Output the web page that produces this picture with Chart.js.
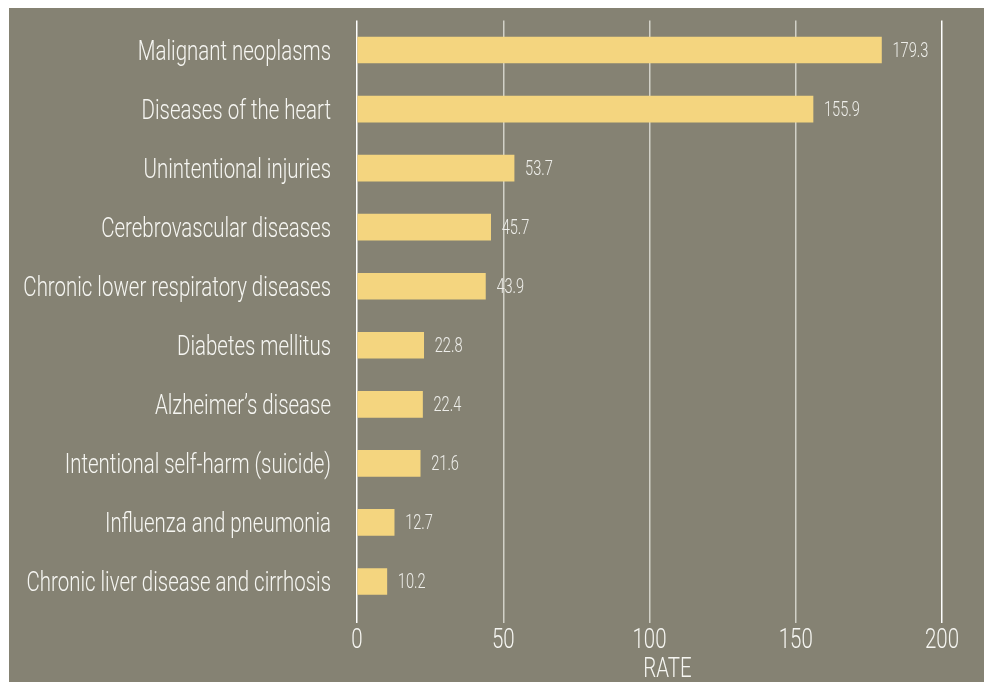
<!DOCTYPE html>
<html>
<head>
<meta charset="utf-8">
<script src="https://cdn.jsdelivr.net/npm/chart.js@4"></script>
<style>
    html, body { margin: 0; padding: 0; background: #ffffff; }
    #wrap { position: absolute; left: 9px; top: 8px; width: 975px; height: 674px; background: #858273; }
</style>
</head>
<body>
<div id="wrap"><canvas id="rateChart" width="975" height="674"></canvas></div>
<script>
const causes = [
    'Malignant neoplasms',
    'Diseases of the heart',
    'Unintentional injuries',
    'Cerebrovascular diseases',
    'Chronic lower respiratory diseases',
    'Diabetes mellitus',
    'Alzheimer\u2019s disease',
    'Intentional self-harm (suicide)',
    'Influenza and pneumonia',
    'Chronic liver disease and cirrhosis'
];
const rates = [179.3, 155.9, 53.7, 45.7, 43.9, 22.8, 22.4, 21.6, 12.7, 10.2];
const rateTicks = [0, 50, 100, 150, 200];
const axisTitle = 'RATE';

const FONT = 'Roboto, "Liberation Sans", sans-serif';
const SQUASH = 0.73; // no condensed face installed, so narrow the text by hand
const TEXT = '#f6f6f2';

function squashText(ctx, text, x, y, align, size) {
    ctx.save();
    ctx.font = '300 ' + size + 'px ' + FONT;
    ctx.textAlign = align;
    ctx.translate(x, y);
    ctx.scale(SQUASH, 1);
    ctx.fillText(text, 0, 0);
    ctx.restore();
}

// all the text: category names, tick numbers, axis title and bar values
const textLayer = {
    id: 'textLayer',
    afterDraw(chart) {
        const ctx = chart.ctx;
        const xs = chart.scales.x;
        const ys = chart.scales.y;
        const area = chart.chartArea;
        ctx.save();
        ctx.fillStyle = TEXT;
        ctx.textBaseline = 'alphabetic';
        causes.forEach((name, i) => {
            squashText(ctx, name, area.left - 26, ys.getPixelForTick(i) + 10, 'right', 28);
        });
        rateTicks.forEach(v => {
            squashText(ctx, String(v), xs.getPixelForValue(v), area.bottom + 37, 'center', 28);
        });
        squashText(ctx, axisTitle, (area.left + area.right) / 2 + 18, area.bottom + 66, 'center', 28);
        ctx.fillStyle = '#eeeeea';
        chart.getDatasetMeta(0).data.forEach((bar, i) => {
            squashText(ctx, rates[i].toFixed(1), bar.x + 11, bar.y + 7, 'left', 20);
        });
        ctx.restore();
    }
};

function initChart() {
    const ctx = document.getElementById('rateChart').getContext('2d');
    return new Chart(ctx, {
        type: 'bar',
        data: {
            labels: causes,
            datasets: [{
                data: rates,
                backgroundColor: '#f4d57f',
                borderWidth: 0,
                barThickness: 26
            }]
        },
        options: {
            indexAxis: 'y',
            responsive: false,
            animation: false,
            layout: { padding: { top: 12.5, right: 42, bottom: 0, left: 0 } },
            plugins: {
                legend: { display: false },
                tooltip: { enabled: false }
            },
            scales: {
                x: {
                    min: 0,
                    max: 200,
                    afterBuildTicks: s => { s.ticks = rateTicks.map(v => ({ value: v })); },
                    afterFit: s => { s.height = 71; s.paddingLeft = 0; s.paddingRight = 0; },
                    border: { display: false },
                    grid: {
                        color: c => (c.tick && (c.tick.value === 0 || c.tick.value === 200)) ? '#ffffff' : '#d2d1c8',
                        lineWidth: 1.5,
                        drawTicks: true,
                        tickLength: 12
                    },
                    ticks: { display: false }
                },
                y: {
                    afterFit: s => { s.width = 348; s.paddingTop = 0; s.paddingBottom = 0; },
                    border: { display: false },
                    grid: { display: false, drawTicks: false },
                    ticks: { display: false }
                }
            }
        },
        plugins: [textLayer]
    });
}

document.addEventListener('DOMContentLoaded', initChart);
</script>
</body>
</html>
